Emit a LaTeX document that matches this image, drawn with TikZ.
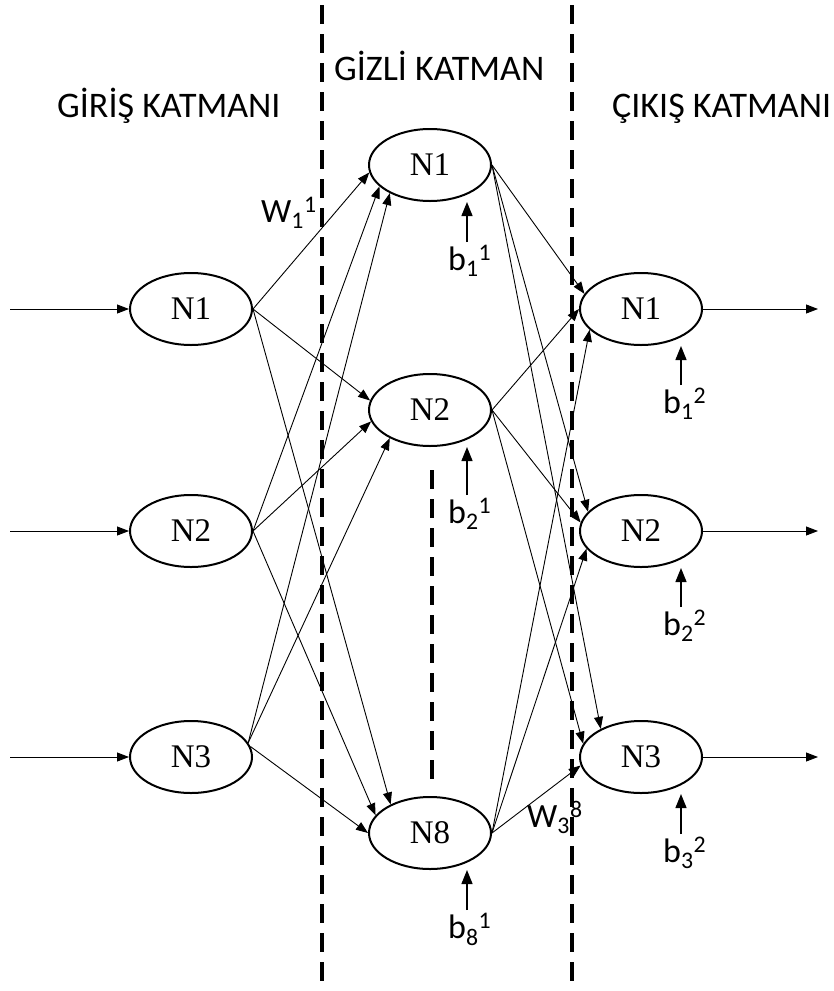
\documentclass[tikz,border=0pt]{standalone}
\usepackage{fontspec}
\setmainfont{Carlito}
\newfontfamily\nfont{Liberation Serif}
\usetikzlibrary{shapes.geometric,arrows.meta}
\tikzset{
  neuron/.style={ellipse,draw,line width=2pt,minimum width=122pt,minimum height=72pt,inner sep=0pt,font=\nfont\fontsize{33}{33}\selectfont},
  conn/.style={line width=0.9pt,-{Triangle[length=12pt,width=9pt]}},
  biasarr/.style={line width=1.3pt,-{Triangle[length=14pt,width=11pt]}},
  layertitle/.style={font=\fontsize{36}{36}\selectfont,inner sep=0pt,anchor=base west},
  blabel/.style={font=\fontsize{34}{34}\selectfont,inner sep=0pt,anchor=base west},
  sep/.style={line width=3.4pt,dash pattern=on 19pt off 10pt}
}
\newcommand{\lbl}[3]{#1\textsubscript{#2}\textsuperscript{#3}}
\begin{document}
\begin{tikzpicture}[x=1pt,y=-1pt]
\useasboundingbox (0,0) rectangle (834,991);
% separators
\coordinate (s1t) at (322,5); \coordinate (s1b) at (322,991);
\coordinate (s2t) at (572,5); \coordinate (s2b) at (572,991);
\coordinate (s3t) at (432,470); \coordinate (s3b) at (432,785);
\draw[sep] (s1t) -- (s1b);
\draw[sep] (s2t) -- (s2b);
\draw[sep] (s3t) -- (s3b);
% titles
\node[layertitle] (t1) at (57,117) {GİRİŞ KATMANI};
\node[layertitle] (t2) at (334,80) {GİZLİ KATMAN};
\node[layertitle] (t3) at (612,117) {ÇIKIŞ KATMANI};
% neurons
\node[neuron] (i1) at (191,309) {N1};
\node[neuron] (i2) at (191,531) {N2};
\node[neuron] (i3) at (191,757) {N3};
\node[neuron] (h1) at (430,165) {N1};
\node[neuron] (h2) at (430,410) {N2};
\node[neuron] (h8) at (430,833) {N8};
\node[neuron] (o1) at (641,309) {N1};
\node[neuron] (o2) at (641,531) {N2};
\node[neuron] (o3) at (641,757) {N3};
% inputs / outputs
\coordinate (in1) at (10,309); \coordinate (in2) at (10,531); \coordinate (in3) at (10,757);
\coordinate (out1) at (818,309); \coordinate (out2) at (818,531); \coordinate (out3) at (818,757);
\foreach \k in {1,2,3}{
  \draw[conn] (in\k) -- (i\k);
  \draw[conn] (o\k) -- (out\k);
}
% input -> hidden
\draw[conn] (i1.east) -- (h1.187);
\draw[conn] (i2.east) -- (h1.203);
\draw[conn] (i3.14) -- (h1.215);
\draw[conn] (i1.east) -- (h2.171);
\draw[conn] (i2.east) -- (h2.191);
\draw[conn] (i3.14) -- (h2.215);
\draw[conn] (i1.east) -- (h8.144);
\draw[conn] (i2.east) -- (h8.162);
\draw[conn] (i3.10) -- (h8.180);
% hidden -> output
\draw[conn] (h1.east) -- (o1.165);
\draw[conn] (h2.east) -- (o1.180);
\draw[conn] (h8.east) -- (o1.202);
\draw[conn] (h1.east) -- (o2.160);
\draw[conn] (h2.east) -- (o2.172);
\draw[conn] (h8.east) -- (o2.198);
\draw[conn] (h1.east) -- (o3.145);
\draw[conn] (h2.east) -- (o3.167);
\draw[conn] (h8.east) -- (o3.188);
% biases
\node[blabel] (bh1) at (448,270) {\lbl{b}{1}{1}};
\node[blabel] (bh2) at (448,523) {\lbl{b}{2}{1}};
\node[blabel] (bh8) at (448,938) {\lbl{b}{8}{1}};
\node[blabel] (bo1) at (663,413) {\lbl{b}{1}{2}};
\node[blabel] (bo2) at (663,635) {\lbl{b}{2}{2}};
\node[blabel] (bo3) at (663,862) {\lbl{b}{3}{2}};
\coordinate (ch1) at (467,242); \coordinate (ch2) at (467,495); \coordinate (ch8) at (467,910);
\coordinate (co1) at (681,385); \coordinate (co2) at (681,607); \coordinate (co3) at (681,834);
\draw[biasarr] (ch1) -- (ch1 |- h1.south);
\draw[biasarr] (ch2) -- (ch2 |- h2.south);
\draw[biasarr] (ch8) -- (ch8 |- h8.south);
\draw[biasarr] (co1) -- (co1 |- o1.south);
\draw[biasarr] (co2) -- (co2 |- o2.south);
\draw[biasarr] (co3) -- (co3 |- o3.south);
% weight labels
\node[blabel] (w11) at (261,222) {\lbl{W}{1}{1}};
\node[blabel] (w38) at (527,827) {\lbl{W}{3}{8}};
\end{tikzpicture}
\end{document}
